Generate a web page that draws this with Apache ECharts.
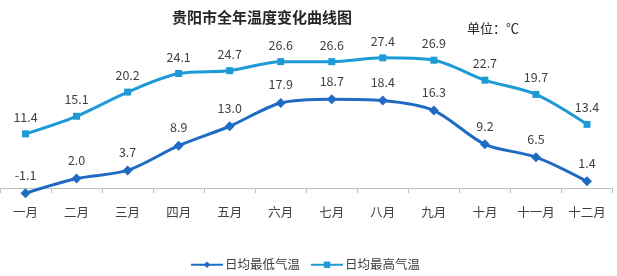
<!DOCTYPE html>
<html><head><meta charset="utf-8">
<script src="https://cdn.jsdelivr.net/npm/echarts@6/dist/echarts.min.js"></script>
<style>html,body{margin:0;padding:0;background:#fff}#c{width:617px;height:276px}</style>
</head><body><div id="c"></div>
<script>
const months = ['一月','二月','三月','四月','五月','六月','七月','八月','九月','十月','十一月','十二月'];
const lowTemps = [-1.1, 2.0, 3.7, 8.9, 13.0, 17.9, 18.7, 18.4, 16.3, 9.2, 6.5, 1.4];
const highTemps = [11.4, 15.1, 20.2, 24.1, 24.7, 26.6, 26.6, 27.4, 26.9, 22.7, 19.7, 13.4];
const seriesNames = ['日均最低气温', '日均最高气温'];
const chart = echarts.init(document.getElementById('c'));
const font = '"Noto Sans CJK SC", "Noto Sans", sans-serif';
const labelStyle = {show: true, position: 'top', distance: 7, color: '#404040', fontSize: 12.5, fontFamily: font,
  formatter: p => p.value.toFixed(1)};
chart.setOption({
  animation: false,
  textStyle: {fontFamily: font},
  title: [{text: '贵阳市全年温度变化曲线图', left: 257, top: 5, textAlign: 'center',
    textStyle: {fontSize: 15, fontWeight: 'bold', color: '#262626', fontFamily: font}},
    {text: '单位：℃', left: 462, top: 17, textStyle: {fontSize: 13, fontWeight: 'normal', color: '#262626', fontFamily: font}}],
  grid: {left: -6, right: 4.5, top: 45.5, bottom: 78.5, containLabel: false},
  legend: {bottom: 0, left: 185, itemWidth: 32, itemHeight: 8, itemGap: 10,
    textStyle: {fontSize: 12.5, color: '#404040', fontFamily: font, padding: [0, 0, 0, -3]},
    data: seriesNames},
  xAxis: {type: 'category', data: months, boundaryGap: true,
    axisLine: {onZero: true, lineStyle: {color: '#BFBFBF', width: 1}},
    axisTick: {show: true, length: 5, lineStyle: {color: '#BFBFBF'}},
    axisLabel: {color: '#404040', fontSize: 12.5, margin: 8, fontFamily: font}},
  yAxis: {type: 'value', min: -2, max: 30, show: false, splitLine: {show: false}},
  series: [
    {name: seriesNames[0], type: 'line', data: lowTemps, smooth: 0.3, symbol: 'diamond', symbolSize: 10,
      lineStyle: {color: '#1F6BC4', width: 3}, itemStyle: {color: '#1F6BC4'}, label: labelStyle},
    {name: seriesNames[1], type: 'line', data: highTemps, smooth: 0.3, symbol: 'rect', symbolSize: 7,
      lineStyle: {color: '#1E9AD6', width: 3}, itemStyle: {color: '#1E9AD6'}, label: labelStyle}
  ]
});
</script></body></html>
